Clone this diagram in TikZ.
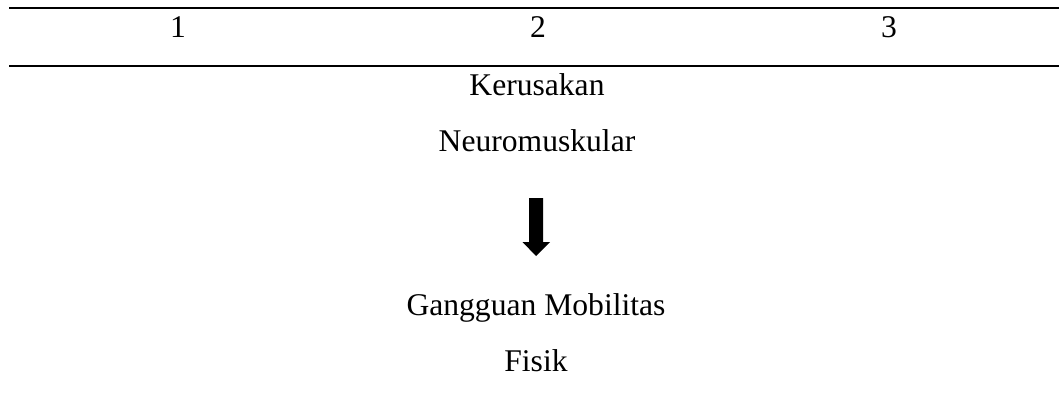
\documentclass[tikz,border=0pt]{standalone}
\usepackage{fontspec}
\setmainfont{Liberation Serif}
\begin{document}
\begin{tikzpicture}[x=1pt,y=-1pt,
  rule/.style={line width=2pt},
  txt/.style={anchor=base,inner sep=0pt,font=\fontsize{31.6}{38}\selectfont},
  blockarrow/.style={fill=black}]
\useasboundingbox (0,0) rectangle (1059,394);
\draw[rule] (9,7.5) coordinate (r1a) -- (1059,7.5) coordinate (r1b);
\draw[rule] (9,65.5) coordinate (r2a) -- (1059,65.5) coordinate (r2b);
\node[txt] (c1) at (178,37) {1};
\node[txt] (c2) at (538,37) {2};
\node[txt] (c3) at (889,37) {3};
\node[txt] (k1) at (537,95) {Kerusakan};
\node[txt] (k2) at (537,151) {Neuromuskular};
\node[txt] (g1) at (536,315) {Gangguan Mobilitas};
\node[txt] (g2) at (536,371) {Fisik};
\fill[blockarrow] (529,198) -- (543,198) -- (543,242) -- (550,242) -- (536,256) -- (522.5,242) -- (529,242) -- cycle;
\end{tikzpicture}
\end{document}
